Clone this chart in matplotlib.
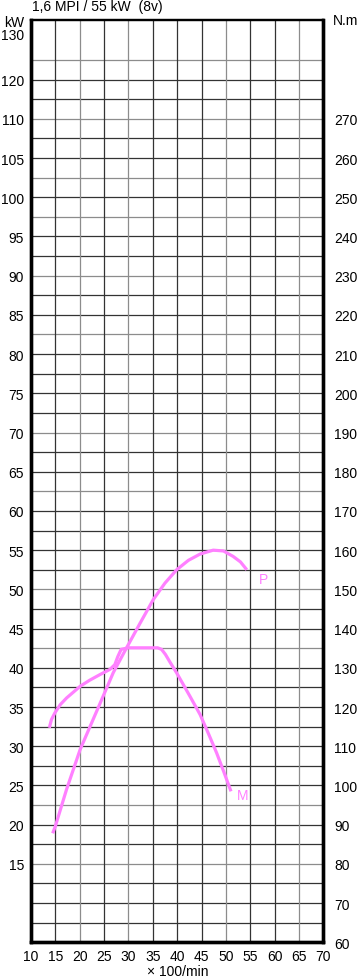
import matplotlib
matplotlib.use("Agg")
import matplotlib.pyplot as plt

plt.rcParams['font.family'] = ['Liberation Sans', 'DejaVu Sans']

# ---- data ----
title = "1,6 MPI / 55 kW  (8v)"
x_ticks = [10, 15, 20, 25, 30, 35, 40, 45, 50, 55, 60, 65, 70]
kw_tick_pos = [15, 20, 25, 30, 35, 40, 45, 50, 55, 60, 65, 70, 75, 80, 85, 90, 95, 100, 105, 110, 115, 120.9]
kw_tick_labels = ['15', '20', '25', '30', '35', '40', '45', '50', '55', '60', '65', '70', '75', '80',
                  '85', '90', '95', '100', '105', '110', '120', '130']
nm_ticks = [60, 70, 80, 90, 100, 110, 120, 130, 140, 150, 160, 170, 180, 190, 200, 210,
            220, 230, 240, 250, 260, 270]

# Power curve P (kW) vs rpm/100
p_rpm = [14.45, 15.0, 17.3, 20.1, 24.2, 26.9, 29.4, 32.4, 35.1, 37.5, 39.9, 42.3, 44.7, 47.4, 49.5, 51.5, 53.0, 54.3]
p_kw = [18.9, 19.8, 24.5, 29.6, 35.5, 39.4, 42.3, 45.7, 48.7, 50.8, 52.5, 53.7, 54.5, 55.0, 54.9, 54.2, 53.5, 52.5]

# Torque curve M (N.m) vs rpm/100
m_rpm = [13.76, 14.2, 14.9, 16.0, 17.3, 20.1, 22.0, 24.2, 26.2, 27.2, 27.8, 28.5, 30.0, 33.0, 36.0, 36.8, 37.6, 38.6, 39.9, 42.6, 44.7, 46.5, 48.1, 49.6, 51.05]
m_nm = [114.7, 116.8, 118.5, 120.6, 122.3, 125.3, 126.8, 128.3, 129.6, 130.8, 132.8, 134.7, 135.1, 135.1, 135.1, 134.7, 133.4, 131.3, 128.7, 122.8, 118.1, 113.0, 108.3, 103.4, 98.5]

# ---- styling ----
W, H = 360, 978
fig = plt.figure(figsize=(W / 100, H / 100), dpi=100)
L, R, T, B = 31, 323.3, 21, 943.3
ax = fig.add_axes([L / W, 1 - B / H, (R - L) / W, (B - T) / H])

KW_MIN, KW_MAX = 5, 122.6
ax.set_xlim(10, 70)
ax.set_ylim(KW_MIN, KW_MAX)

dark = '#333333'
light = '#8c8c8c'
gray_h = [117.5, 110, 102.5, 97.5, 90, 82.5, 70, 62.5, 50, 42.5, 22.5, 15]
gray_v = [20, 30, 50, 65]
for k in range(3, 48):
    yv = k * 2.5
    c = light if yv in gray_h else dark
    ax.axhline(yv, color=c, lw=0.9, zorder=1)
for xv in range(15, 70, 5):
    c = light if xv in gray_v else dark
    ax.axvline(xv, color=c, lw=0.9, zorder=1)

pink = '#ff80ff'
ax.plot(p_rpm, p_kw, color=pink, lw=2.3, solid_joinstyle='round', solid_capstyle='butt', zorder=3)
ax2 = ax.twinx()
ax2.set_ylim(60 + (KW_MIN - 5) * 2, 60 + (KW_MAX - 5) * 2)
ax2.plot(m_rpm, m_nm, color=pink, lw=2.3, solid_joinstyle='round', solid_capstyle='butt', zorder=3)

ax.text(57.7, 51.3, 'P', color=pink, fontsize=10, ha='center', va='center')
ax.text(53.5, 23.75, 'M', color=pink, fontsize=10, ha='center', va='center')

ax.set_xticks(x_ticks)
ax.set_xticklabels([str(v) for v in x_ticks])
ax.set_yticks(kw_tick_pos)
ax.set_yticklabels(kw_tick_labels)
ax2.set_yticks(nm_ticks)
ax2.set_yticklabels([str(v) for v in nm_ticks])
ax.tick_params(axis='both', length=0, labelsize=10, colors='black')
ax.tick_params(axis='x', pad=5)
ax.tick_params(axis='y', pad=5)
ax2.tick_params(axis='y', length=0, labelsize=10, pad=8, colors='black')

for a in (ax, ax2):
    for s in a.spines.values():
        s.set_color('black')
        s.set_linewidth(2.4)
    a.spines['top'].set_linewidth(1.6)
    a.set_facecolor('none')
ax.set_facecolor('white')

fig.text(32 / W, 1 - 10.5 / H, title, fontsize=10, ha='left', va='baseline')
fig.text(14 / W, 1 - 23 / H, 'kW', fontsize=10, ha='center', va='center')
fig.text(333 / W, 1 - 21 / H, 'N.m', fontsize=10, ha='left', va='center')
fig.text(178 / W, 1 - 972.5 / H, '× 100/min', fontsize=10, ha='center', va='center')

fig.savefig('out.png', dpi=100)
